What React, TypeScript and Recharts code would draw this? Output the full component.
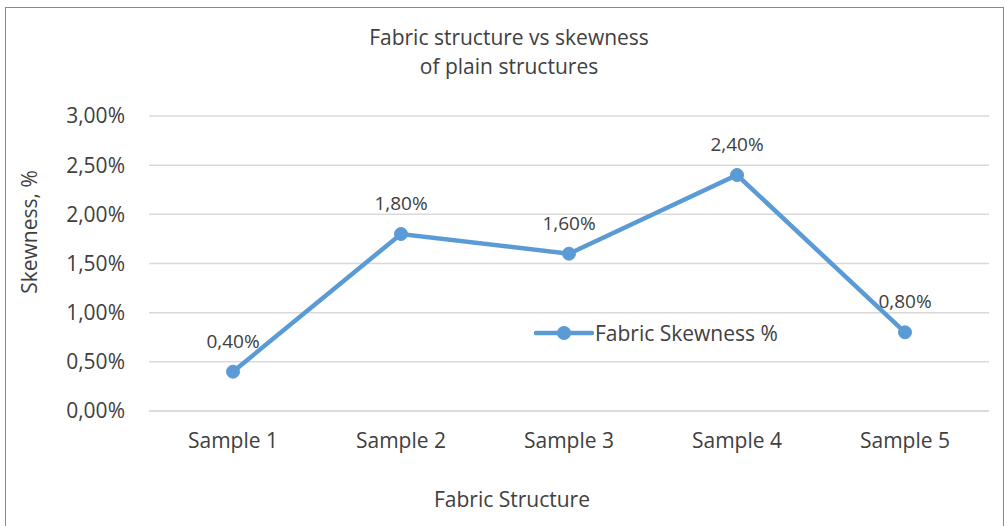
import React from 'react';
import { LineChart, Line, XAxis, YAxis, CartesianGrid, Legend, LabelList } from 'recharts';

const categories = ['Sample 1', 'Sample 2', 'Sample 3', 'Sample 4', 'Sample 5'];
const skewness = [0.4, 1.8, 1.6, 2.4, 0.8];
const yTicks = [0, 0.5, 1, 1.5, 2, 2.5, 3];
const seriesName = 'Fabric Skewness %';
const titleLines = ['Fabric structure vs skewness', 'of plain structures'];
const xTitle = 'Fabric Structure';
const yTitle = 'Skewness, %';

const data = categories.map((c, i) => ({ name: c, value: skewness[i] }));

const FONT = '"Open Sans", sans-serif';
const TEXT = '#404040';
const BLUE = '#5B9BD5';
const GRID = '#D9D9D9';

const fmt = (v: number) => v.toFixed(2).replace('.', ',') + '%';

const renderLegend = (props: any) => {
  const { payload } = props;
  return (
    <div style={{ display: 'flex', alignItems: 'center', fontFamily: FONT }}>
      {(payload || []).map((p: any) => (
        <div key={p.value} style={{ display: 'flex', alignItems: 'center' }}>
          <svg width={60} height={16}>
            <line x1={2} y1={8} x2={58} y2={8} stroke={BLUE} strokeWidth={4.5} strokeLinecap="round" />
            <circle cx={30} cy={8} r={7} fill={BLUE} />
          </svg>
          <span style={{ fontSize: 21, color: TEXT, marginLeft: 1, whiteSpace: 'nowrap' }}>{p.value}</span>
        </div>
      ))}
    </div>
  );
};

export default function App() {
  return (
    <div style={{ position: 'absolute', left: 0, top: 0, width: 1005, height: 526, background: '#fff', overflow: 'hidden', fontFamily: FONT }}>
      <div style={{ position: 'absolute', left: 5, top: 7, width: 997, height: 560, border: '1px solid #8a8a8a' }} />
      <div style={{ position: 'absolute', left: 309, top: 23, width: 400, textAlign: 'center', fontSize: 21, lineHeight: '29px', color: TEXT }}>
        {titleLines.map((t) => (
          <div key={t}>{t}</div>
        ))}
      </div>
      <div style={{ position: 'absolute', left: 412, top: 485, width: 200, textAlign: 'center', fontSize: 21, color: TEXT, whiteSpace: 'nowrap' }}>
        {xTitle}
      </div>
      <div style={{ position: 'absolute', left: 29, top: 232, transform: 'translate(-50%, -50%) rotate(-90deg)', fontSize: 21, color: TEXT, whiteSpace: 'nowrap' }}>
        {yTitle}
      </div>
      <div style={{ position: 'absolute', left: 0, top: 0 }}>
        <LineChart width={1005} height={526} data={data} margin={{ top: 116, right: 16, left: 49, bottom: 55 }}>
          <CartesianGrid vertical={false} stroke={GRID} strokeWidth={1.5} />
          <XAxis
            dataKey="name"
            padding={{ left: 84, right: 84 }}
            axisLine={{ stroke: GRID, strokeWidth: 1.5 }}
            tickLine={false}
            tickSize={6}
            tickMargin={16}
            height={60}
            tick={{ fill: TEXT, fontSize: 21, fontFamily: FONT }}
          />
          <YAxis
            domain={[0, 3]}
            ticks={yTicks}
            interval={0}
            width={100}
            axisLine={false}
            tickLine={false}
            tickSize={6}
            tickMargin={18}
            tickFormatter={fmt}
            tick={{ fill: TEXT, fontSize: 21, fontFamily: FONT }}
          />
          <Legend
            layout="horizontal"
            verticalAlign="middle"
            align="center"
            content={renderLegend}
            wrapperStyle={{ position: 'absolute', left: 534, top: 319, width: 'auto', height: 'auto' }}
          />
          <Line
            type="linear"
            dataKey="value"
            name={seriesName}
            stroke={BLUE}
            strokeWidth={4.5}
            dot={{ r: 6.5, fill: BLUE, stroke: BLUE, strokeWidth: 1 }}
            activeDot={false}
            isAnimationActive={false}
          >
            <LabelList dataKey="value" position="top" offset={24} formatter={(v: any) => fmt(Number(v))} style={{ fill: TEXT, fontSize: 19, fontFamily: FONT }} />
          </Line>
        </LineChart>
      </div>
    </div>
  );
}
